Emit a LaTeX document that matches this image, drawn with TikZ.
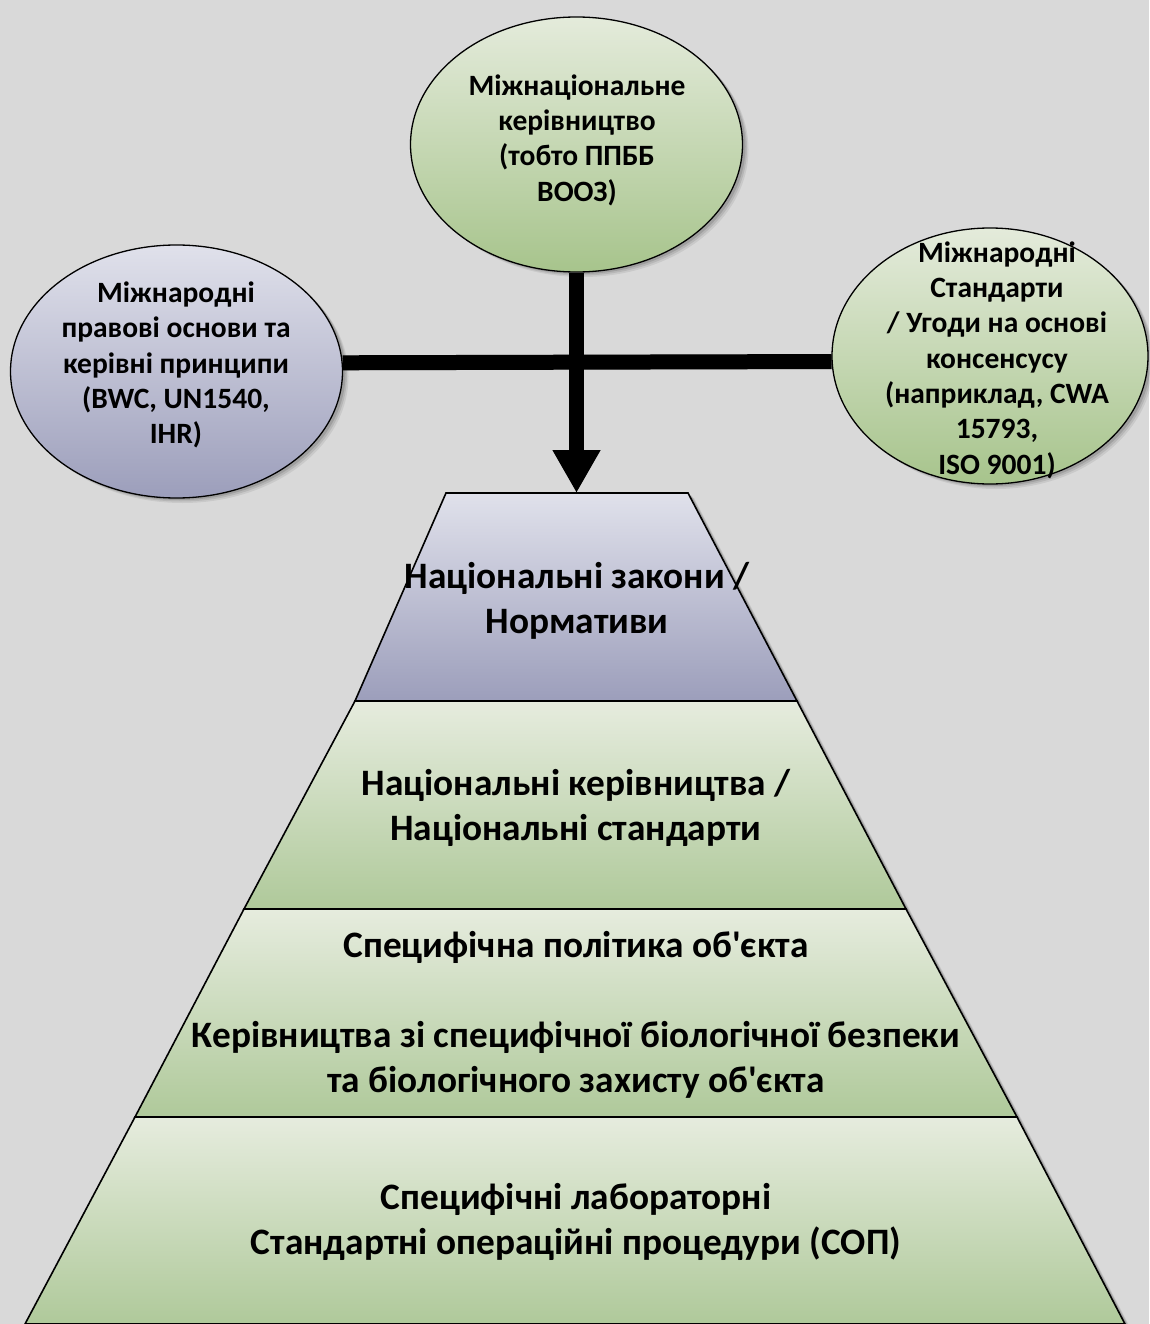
\documentclass[tikz,border=0pt]{standalone}
\usepackage{fontspec}
\setmainfont{Carlito}
\usetikzlibrary{arrows.meta,shapes.geometric,shadows}
\definecolor{bg}{HTML}{D9D9D9}
\definecolor{gtop}{HTML}{E6ECDE}
\definecolor{gbot}{HTML}{AFC99A}
\definecolor{btop}{HTML}{E0E1EB}
\definecolor{bbot}{HTML}{9C9EBB}
\definecolor{egtop}{HTML}{E4EBDB}
\definecolor{egbot}{HTML}{A7C48C}
\begin{document}
\begin{tikzpicture}[x=1pt,y=1pt,
  softshadow/.style={
    drop shadow={shadow xshift=6pt,shadow yshift=-5pt,opacity=0.07,fill=black},
    drop shadow={shadow xshift=4.5pt,shadow yshift=-3.5pt,opacity=0.09,fill=black},
    drop shadow={shadow xshift=3pt,shadow yshift=-2pt,opacity=0.12,fill=black}},
  bubble/.style={ellipse,draw=black,line width=1.3pt,inner sep=0pt,softshadow},
  greenfill/.style={top color=egtop,bottom color=egbot},
  bluefill/.style={top color=btop,bottom color=bbot},
  bubbletext/.style={align=center,inner sep=0pt,font=\fontsize{29.5}{35.3}\selectfont\bfseries},
  leveltext/.style={align=center,inner sep=0pt,font=\fontsize{37.3}{45}\selectfont\bfseries},
  levelgreen/.style={top color=gtop,bottom color=gbot,draw=black,line width=1.6pt},
  levelblue/.style={top color=btop,bottom color=bbot,draw=black,line width=1.6pt},
  barline/.style={line width=15pt,black},
  barshadow/.style={line width=15pt,black,opacity=0.18},
]
\useasboundingbox (0,0) rectangle (1149,-1324);
\fill[bg] (0,0) rectangle (1149,-1324);

% pyramid shadow
\foreach \dx/\dy/\op in {6/-5/0.07,4.5/-3.5/0.09,3/-2/0.12}{
  \fill[black,opacity=\op,shift={(\dx,\dy)}] (446,-493) -- (688,-493) -- (797,-701) -- (906,-909) -- (1017,-1117) -- (1125,-1324) -- (25,-1324) -- (135,-1117) -- (244,-909) -- (355,-701) -- cycle;
}
% pyramid levels
\path[levelblue]  (446,-493) -- (688,-493) -- (797,-701) -- (355,-701) -- cycle;
\path[levelgreen] (355,-701) -- (797,-701) -- (906,-909) -- (244,-909) -- cycle;
\path[levelgreen] (244,-909) -- (906,-909) -- (1017,-1117) -- (135,-1117) -- cycle;
\path[levelgreen] (135,-1117) -- (1017,-1117) -- (1125,-1324) -- (25,-1324) -- cycle;
\coordinate (L1top) at (576.5,-493);

\node[leveltext] (t1) at (577,-601) {Національні закони /\\Нормативи};
\node[leveltext] (t2) at (576,-808) {Національні керівництва /\\Національні стандарти};
\node[leveltext] (t3) at (576,-1015) {Специфічна політика об\textquotesingle єкта\\[45pt]Керівництва зі специфічної біологічної безпеки\\та біологічного захисту об\textquotesingle єкта};
\node[leveltext] (t4) at (576,-1222) {Специфічні лабораторні\\Стандартні операційні процедури (СОП)};

% ellipses
\node[bubble,greenfill,minimum width=332pt,minimum height=255pt] (top) at (576.5,-144.5) {};
\node[bubble,bluefill,minimum width=332pt,minimum height=253pt] (lft) at (176.5,-371.5) {};
\node[bubble,greenfill,minimum width=316pt,minimum height=256pt] (rgt) at (990,-356) {};

\node[bubbletext] (toptext) at (577,-140) {Міжнаціональне\\керівництво\\(тобто ППББ\\ВООЗ)};
\node[bubbletext] (lfttext) at (176,-365) {Міжнародні\\правові основи та\\керівні принципи\\(BWC, UN1540,\\IHR)};
\node[bubbletext] (rgttext) at (997,-360) {Міжнародні\\Стандарти\\/ Угоди на основі\\консенсусу\\(наприклад, CWA\\15793,\\ISO 9001)};

% connectors
\draw[barshadow,shift={(3,-3)}] (lft.3.3) -- (rgt.182.2);
\draw[barshadow,shift={(3,-3)}] (top.south) -- ([yshift=40pt]L1top);
\draw[barline] (lft.3.3) -- (rgt.182.2);
\draw[barline,-{Triangle[width=45pt,length=43pt]}] (top.south) -- (L1top);
\end{tikzpicture}
\end{document}
